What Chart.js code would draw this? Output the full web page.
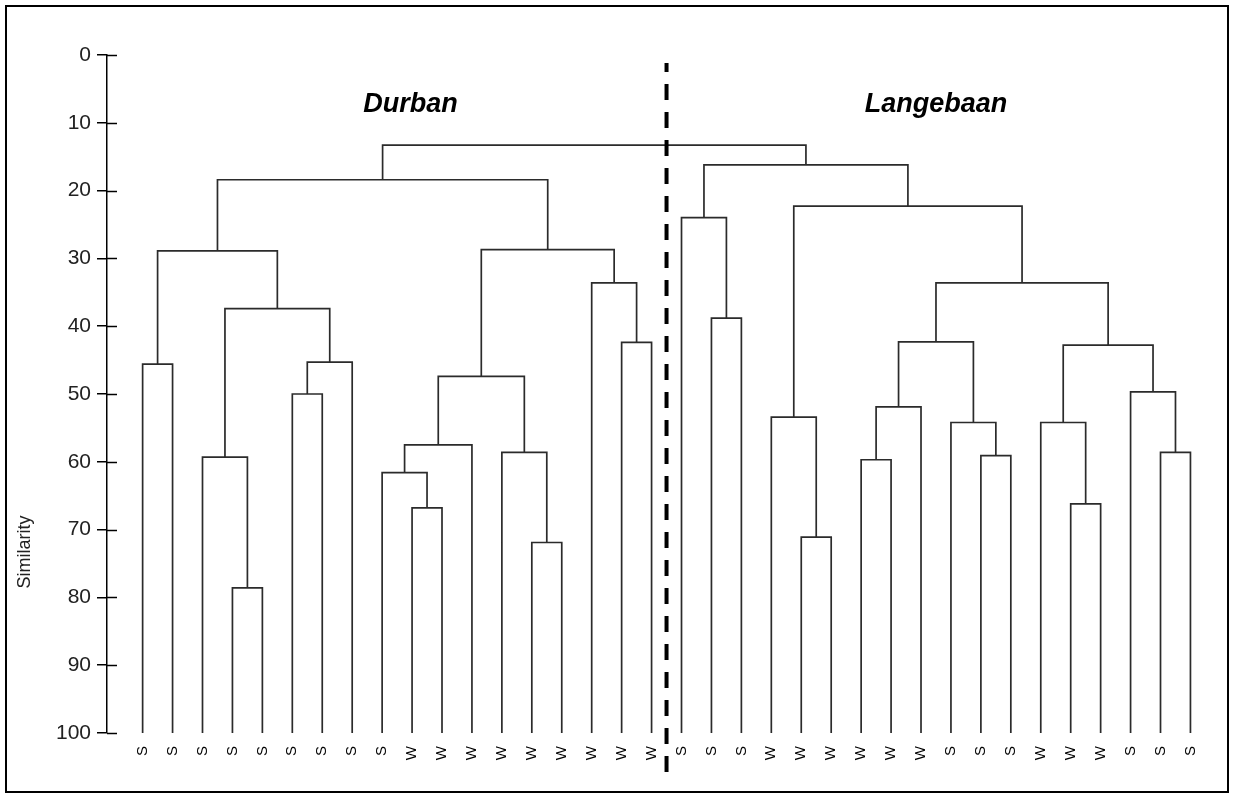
<!DOCTYPE html>
<html>
<head>
<meta charset="utf-8">
<script src="https://cdn.jsdelivr.net/npm/chart.js@4/dist/chart.umd.min.js"></script>
<style>
  html, body { margin: 0; padding: 0; background: #fff; }
  #wrap { width: 1234px; height: 798px; }
</style>
</head>
<body>
<div id="wrap"><canvas id="dendro" width="1234" height="798"></canvas></div>
<script>
// leaf order along the bottom: Durban first, then Langebaan
const leafLabels = [
  "S", "S", "S", "S", "S", "S", "S", "S", "S", "W", "W", "W", "W", "W", "W", "W", "W", "W",
  "S", "S", "S", "W", "W", "W", "W", "W", "W", "S", "S", "S", "W", "W", "W", "S", "S", "S"
];
const groupNames = ["Durban", "Langebaan"];
const groupSizes = [18, 18];

// ids 0-35 are the leaves, merge k makes node 36 + k
const mergeLeft   = [0, 3, 2, 5, 39, 38, 36, 9, 8, 44, 13, 12, 45, 16, 15, 48, 42,
                     22, 21, 19, 18, 24, 57, 28, 27, 58, 31, 30, 34, 33, 63, 61, 54, 56, 52];
const mergeRight  = [1, 4, 37, 6, 7, 40, 41, 10, 43, 11, 14, 46, 47, 17, 49, 50, 51,
                     23, 53, 20, 55, 25, 26, 29, 59, 60, 32, 62, 35, 64, 65, 66, 67, 68, 69];
const mergeHeight = [45.6, 78.6, 59.3, 50.0, 45.3, 37.4, 28.9, 66.8, 61.6, 57.5, 71.9, 58.6, 47.4, 42.4, 33.6, 28.7, 18.4,
                     71.1, 53.4, 38.8, 24.0, 59.7, 51.9, 59.1, 54.2, 42.3, 66.2, 54.2, 58.6, 49.7, 42.8, 33.6, 22.3, 16.2, 13.3];

const yTicks = [0, 10, 20, 30, 40, 50, 60, 70, 80, 90, 100];
const yTitle = "Similarity";

const FONT = 'Arial, "Liberation Sans", sans-serif';

// node positions: leaves sit at their index and at similarity 100
const nodeX = leafLabels.map((_, i) => i);
const nodeY = leafLabels.map(() => 100);
mergeLeft.forEach((l, k) => {
  const r = mergeRight[k];
  nodeX.push((nodeX[l] + nodeX[r]) / 2);
  nodeY.push(mergeHeight[k]);
});

const datasets = mergeLeft.map((l, k) => {
  const r = mergeRight[k];
  const h = mergeHeight[k];
  return {
    data: [
      { x: nodeX[l], y: nodeY[l] },
      { x: nodeX[l], y: h },
      { x: nodeX[r], y: h },
      { x: nodeX[r], y: nodeY[r] }
    ],
    showLine: true,
    borderColor: "#2b2b2b",
    borderWidth: 1.7,
    pointRadius: 0,
    tension: 0
  };
});

const decor = {
  id: "decor",
  afterDraw(chart) {
    const { ctx, chartArea, scales } = chart;
    const xs = scales.x, ys = scales.y;
    ctx.save();

    // inner half of the y ticks
    ctx.strokeStyle = "#000";
    ctx.lineWidth = 1.5;
    yTicks.forEach(v => {
      const py = Math.round(ys.getPixelForValue(v)) + 0.5;
      ctx.beginPath();
      ctx.moveTo(chartArea.left, py);
      ctx.lineTo(chartArea.left + 10, py);
      ctx.stroke();
    });

    // dashed separator between the two sites
    const sx = xs.getPixelForValue(groupSizes[0] - 0.5);
    ctx.lineWidth = 4;
    ctx.setLineDash([16, 12]);
    ctx.lineDashOffset = 7;
    ctx.beginPath();
    ctx.moveTo(sx, 63);
    ctx.lineTo(sx, 772);
    ctx.stroke();
    ctx.setLineDash([]);

    // site names
    ctx.fillStyle = "#000";
    ctx.font = "italic bold 27px " + FONT;
    ctx.textAlign = "center";
    ctx.textBaseline = "alphabetic";
    const nameAt = [8.95, 26.5];
    groupNames.forEach((name, i) => {
      ctx.fillText(name, xs.getPixelForValue(nameAt[i]), 111.5);
    });

    // axis title
    ctx.font = "18px " + FONT;
    ctx.fillStyle = "#222";
    ctx.translate(25, 552);
    ctx.rotate(-Math.PI / 2);
    ctx.textBaseline = "middle";
    ctx.fillText(yTitle, 0, 0);
    ctx.setTransform(1, 0, 0, 1, 0, 0);

    // outer frame
    ctx.strokeStyle = "#000";
    ctx.lineWidth = 2;
    ctx.strokeRect(6, 6, 1222, 786);
    ctx.restore();
  }
};

new Chart(document.getElementById("dendro"), {
  type: "scatter",
  data: { datasets },
  options: {
    responsive: false,
    animation: false,
    layout: { padding: { top: 55, right: 19, bottom: 0, left: 0 } },
    plugins: { legend: { display: false }, tooltip: { enabled: false } },
    scales: {
      x: {
        type: "linear",
        min: -1.19,
        max: 35.82,
        afterBuildTicks: s => { s.ticks = leafLabels.map((_, i) => ({ value: i })); },
        afterFit: s => { s.height = 65; },
        grid: { display: false, drawTicks: false },
        border: { display: false },
        ticks: {
          autoSkip: false,
          minRotation: 90,
          maxRotation: 90,
          padding: 13,
          color: "#000",
          font: { family: FONT, size: 15 },
          callback: v => leafLabels[v]
        }
      },
      y: {
        reverse: true,
        min: 0,
        max: 100,
        afterBuildTicks: s => { s.ticks = yTicks.map(v => ({ value: v })); },
        afterFit: s => { s.width = 107; },
        grid: { drawOnChartArea: false, drawTicks: true, tickLength: 10, color: "#000", lineWidth: 1.5 },
        border: { display: true, color: "#000", width: 1.5 },
        ticks: { padding: 6, color: "#222", font: { family: FONT, size: 21 } }
      }
    }
  },
  plugins: [decor]
});
</script>
</body>
</html>
